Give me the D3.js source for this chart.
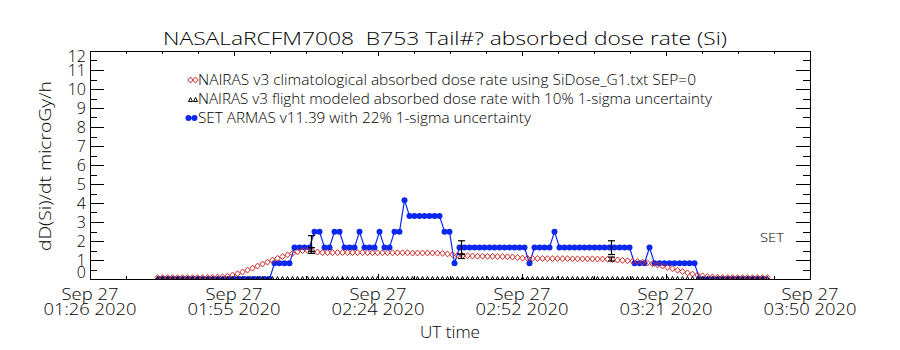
<!DOCTYPE html>
<html>
<head>
<meta charset="utf-8">
<script src="https://cdn.jsdelivr.net/npm/d3@7"></script>
<style>
  html, body { margin: 0; padding: 0; background: #fff; }
  svg text { font-family: "Open Sans", "Liberation Sans", "DejaVu Sans", Arial, sans-serif; font-weight: 300; fill: #000; white-space: pre; }
</style>
</head>
<body>
<svg id="chart" width="900" height="350"></svg>
<script>
// ---- text ----
const titleText = "NASALaRCFM7008  B753 Tail#? absorbed dose rate (Si)";
const yAxisTitle = "dD(Si)/dt microGy/h";
const xAxisTitle = "UT time";
const legendLabels = [
  "NAIRAS v3 climatological absorbed dose rate using SiDose_G1.txt SEP=0",
  "NAIRAS v3 flight modeled absorbed dose rate with 10% 1-sigma uncertainty",
  "SET ARMAS v11.39 with 22% 1-sigma uncertainty"
];
const sideLabel = "SET";
const flightDay = "2020-09-27";

// ---- axes ----
const timeDomain = ["01:26:30", "03:50:30"];
const xTickTimes = ["01:26:30", "01:55:18", "02:24:06", "02:52:54", "03:21:42", "03:50:30"];
const yTicks = [0, 1, 2, 3, 4, 5, 6, 7, 8, 9, 10, 11, 12];

// ---- NAIRAS climatological dose rate, one value per minute ----
const climStart = "01:40:00";
const climDose = [
  0.07, 0.07, 0.07, 0.07, 0.07, 0.07, 0.07, 0.07, 0.07, 0.07,
  0.08, 0.09, 0.10, 0.12,
  0.15, 0.21, 0.28, 0.37, 0.47, 0.57, 0.68, 0.79, 0.89, 0.99,
  1.09, 1.18, 1.27, 1.35, 1.43, 1.49, 1.51, 1.47, 1.42, 1.39,
  1.39, 1.39, 1.39, 1.39, 1.39, 1.39, 1.39, 1.39, 1.38, 1.38, 1.38, 1.38,
  1.38, 1.38, 1.38, 1.38, 1.38, 1.37, 1.37, 1.37, 1.37, 1.37, 1.36,
  1.35, 1.32, 1.28, 1.25, 1.23, 1.22, 1.21, 1.20, 1.20, 1.19,
  1.19, 1.18, 1.18, 1.17, 1.16, 1.13, 1.10, 1.09, 1.08, 1.08,
  1.08, 1.07, 1.07, 1.07, 1.07, 1.07, 1.06, 1.06, 1.06, 1.06,
  1.06, 1.05, 1.05, 1.04, 1.02, 1.00, 0.98, 0.96, 0.94, 0.92,
  0.89, 0.85, 0.80, 0.74, 0.68, 0.61, 0.54, 0.46, 0.39, 0.32,
  0.26, 0.21, 0.17, 0.13, 0.11, 0.09, 0.08,
  0.07, 0.07, 0.07, 0.07, 0.07, 0.07, 0.07, 0.07, 0.07
];

// ---- NAIRAS flight modeled dose rate, one value per minute ----
const modelStart = "01:40:00";
const modelDose = [
  0, 0, 0, 0, 0, 0, 0, 0, 0, 0, 0, 0, 0, 0, 0, 0, 0, 0, 0, 0,
  0, 0, 0, 0, 0, 0, 0, 0, 0, 0, 0, 0, 0, 0, 0, 0, 0, 0, 0, 0,
  0, 0, 0, 0, 0, 0, 0, 0, 0, 0, 0, 0, 0, 0, 0, 0, 0, 0, 0, 0,
  0, 0, 0, 0, 0, 0, 0, 0, 0, 0, 0, 0, 0, 0, 0, 0, 0, 0, 0, 0,
  0, 0, 0, 0, 0, 0, 0, 0, 0, 0, 0, 0, 0, 0, 0, 0, 0, 0, 0, 0,
  0, 0, 0, 0, 0, 0, 0, 0, 0, 0, 0, 0, 0, 0, 0, 0, 0, 0, 0, 0,
  0, 0, 0
];

// ---- SET ARMAS measured dose rate, one value per minute ----
const setStart = "01:40:24";
const setDose = [
  0, 0, 0, 0, 0, 0, 0, 0, 0, 0, 0, 0, 0, 0, 0, 0, 0, 0, 0, 0, 0, 0, 0,
  0.83, 0.83, 0.83, 0.83,
  1.66, 1.66, 1.66, 1.66,
  2.49, 2.49,
  1.66, 1.66,
  2.49, 2.49,
  1.66, 1.66, 1.66,
  2.49,
  1.66, 1.66, 1.66,
  2.49,
  1.66, 1.66,
  2.49, 2.49,
  4.15,
  3.32, 3.32, 3.32, 3.32, 3.32, 3.32, 3.32,
  2.49, 2.49,
  0.83,
  1.66, 1.66, 1.66, 1.66, 1.66, 1.66, 1.66, 1.66, 1.66, 1.66, 1.66, 1.66, 1.66, 1.66,
  0.83,
  1.66, 1.66, 1.66, 1.66,
  2.49,
  1.66, 1.66, 1.66, 1.66, 1.66, 1.66, 1.66, 1.66, 1.66, 1.66, 1.66, 1.66, 1.66, 1.66, 1.66,
  0.83, 0.83, 0.83,
  1.66,
  0.83, 0.83, 0.83, 0.83, 0.83, 0.83, 0.83, 0.83, 0.83,
  0, 0, 0, 0, 0, 0, 0, 0, 0, 0, 0, 0, 0, 0
];

// ---- uncertainty bars at waypoints ----
const errTimes = ["02:11:00", "02:41:00", "03:11:00"];
const errSetMean = [1.87, 1.65, 1.65];
const errSetFrac = 0.22;
const errModelMean = [1.50, 1.20, 1.05];
const errModelFrac = 0.10;

// ---------------------------------------------------------------
const svg = d3.select("#chart");
const plot = { left: 90, right: 810, top: 51, bottom: 279 };

const parseTime = d3.utcParse("%Y-%m-%d %H:%M:%S");
const t = s => parseTime(flightDay + " " + s);
const minute = 60000;

const x = d3.scaleUtc().domain(timeDomain.map(t)).range([plot.left, plot.right]);
const y = d3.scaleLinear().domain([0, 12]).range([plot.bottom, plot.top]);

const series = (start, vals) => vals.map((v, i) => ({ time: new Date(t(start).getTime() + i * minute), v }));
const climData = series(climStart, climDose);
const modelData = series(modelStart, modelDose);
const setData = series(setStart, setDose);

const RED = "#cc2b2b";
const BLUE = "#0a28ee";

svg.append("defs").append("clipPath").attr("id", "plotclip")
  .append("rect")
  .attr("x", plot.left).attr("y", plot.top)
  .attr("width", plot.right - plot.left).attr("height", plot.bottom - plot.top);

// title
svg.append("text")
  .attr("x", 445).attr("y", 45)
  .attr("text-anchor", "middle")
  .attr("font-size", 19)
  .attr("textLength", 564).attr("lengthAdjust", "spacingAndGlyphs")
  .text(titleText);

// ---- ticks ----
const tickG = svg.append("g").attr("stroke", "#000").attr("stroke-width", 1).attr("shape-rendering", "crispEdges");
const majorX = xTickTimes.map(t);
const minorX = [];
for (let i = 0; i < majorX.length - 1; i++) {
  const a = majorX[i].getTime(), b = majorX[i + 1].getTime();
  for (let j = 1; j < 4; j++) minorX.push(new Date(a + (b - a) * j / 4));
}
majorX.forEach(d => {
  const px = Math.round(x(d)) + 0.5;
  tickG.append("line").attr("x1", px).attr("x2", px).attr("y1", plot.bottom).attr("y2", plot.bottom - 5);
  tickG.append("line").attr("x1", px).attr("x2", px).attr("y1", plot.top).attr("y2", plot.top + 5);
});
minorX.forEach(d => {
  const px = Math.round(x(d)) + 0.5;
  tickG.append("line").attr("x1", px).attr("x2", px).attr("y1", plot.bottom).attr("y2", plot.bottom - 3);
  tickG.append("line").attr("x1", px).attr("x2", px).attr("y1", plot.top).attr("y2", plot.top + 3);
});
for (let v = 0; v <= 12; v += 0.5) {
  const py = Math.round(y(v)) + 0.5;
  const len = Number.isInteger(v) ? 14 : 7;
  tickG.append("line").attr("x1", plot.left).attr("x2", plot.left + len).attr("y1", py).attr("y2", py);
  tickG.append("line").attr("x1", plot.right).attr("x2", plot.right - len).attr("y1", py).attr("y2", py);
}

// frame
svg.append("rect")
  .attr("x", plot.left + 0.5).attr("y", plot.top + 0.5)
  .attr("width", plot.right - plot.left).attr("height", plot.bottom - plot.top)
  .attr("fill", "none").attr("stroke", "#000").attr("stroke-width", 1)
  .attr("shape-rendering", "crispEdges");

// y labels, kept inside the frame's vertical extent
const yFont = 16;
yTicks.forEach(v => {
  let cy = y(v);
  cy = Math.min(cy, plot.bottom - 7);
  cy = Math.max(cy, plot.top + 5);
  svg.append("text")
    .attr("x", plot.left - 4).attr("y", cy)
    .attr("dy", "0.36em")
    .attr("text-anchor", "end")
    .attr("font-size", yFont)
    .text(v);
});

// x labels, two lines each
const fmtDay = d3.utcFormat("%b %d");
const fmtTime = d3.utcFormat("%H:%M %Y");
majorX.forEach(d => {
  const px = x(d);
  svg.append("text").attr("x", px).attr("y", 300)
    .attr("text-anchor", "middle").attr("font-size", 16)
    .attr("textLength", 57).attr("lengthAdjust", "spacingAndGlyphs")
    .text(fmtDay(d));
  svg.append("text").attr("x", px).attr("y", 315)
    .attr("text-anchor", "middle").attr("font-size", 16)
    .attr("textLength", 93).attr("lengthAdjust", "spacingAndGlyphs")
    .text(fmtTime(d));
});

// axis titles
svg.append("text")
  .attr("x", 450).attr("y", 338)
  .attr("text-anchor", "middle").attr("font-size", 16)
  .attr("textLength", 60).attr("lengthAdjust", "spacingAndGlyphs")
  .text(xAxisTitle);

svg.append("text")
  .attr("transform", "translate(51,166) rotate(-90)")
  .attr("text-anchor", "middle").attr("font-size", 16)
  .attr("textLength", 170).attr("lengthAdjust", "spacingAndGlyphs")
  .text(yAxisTitle);

// ---- data ----
const dataG = svg.append("g").attr("clip-path", "url(#plotclip)");

// SET ARMAS: line with filled dots
dataG.append("path")
  .datum(setData)
  .attr("fill", "none").attr("stroke", BLUE).attr("stroke-width", 1.2)
  .attr("d", d3.line().x(d => x(d.time)).y(d => y(d.v)));
dataG.selectAll("circle.set").data(setData).join("circle")
  .attr("class", "set")
  .attr("cx", d => x(d.time)).attr("cy", d => y(d.v)).attr("r", 3)
  .attr("fill", BLUE);

// climatological: open diamonds
const diamond = (cx, cy) => `M${cx},${cy - 3}L${cx + 2.7},${cy}L${cx},${cy + 3}L${cx - 2.7},${cy}Z`;
dataG.selectAll("path.clim").data(climData).join("path")
  .attr("class", "clim")
  .attr("d", d => diamond(x(d.time), y(d.v)))
  .attr("fill", "none").attr("stroke", RED).attr("stroke-width", 1);

// flight modeled: open triangles
const triangle = (cx, cy) => `M${cx},${cy - 2.5}L${cx + 2},${cy + 1.5}L${cx - 2},${cy + 1.5}Z`;
dataG.selectAll("path.model").data(modelData).join("path")
  .attr("class", "model")
  .attr("d", d => triangle(x(d.time), y(d.v)))
  .attr("fill", "none").attr("stroke", "#000").attr("stroke-width", 1);

// uncertainty bars
const errG = svg.append("g").attr("stroke", "#000").attr("stroke-width", 1.2);
const bar = (px, lo, hi) => {
  errG.append("line").attr("x1", px).attr("x2", px).attr("y1", y(lo)).attr("y2", y(hi));
  errG.append("line").attr("x1", px - 3.5).attr("x2", px + 3.5).attr("y1", y(lo)).attr("y2", y(lo));
  errG.append("line").attr("x1", px - 3.5).attr("x2", px + 3.5).attr("y1", y(hi)).attr("y2", y(hi));
};
errTimes.forEach((s, i) => {
  const px = Math.round(x(t(s))) - 1.5;
  const m = errSetMean[i];
  bar(px, m * (1 - errSetFrac), m * (1 + errSetFrac));
  const n = errModelMean[i];
  bar(px, n * (1 - errModelFrac), n * (1 + errModelFrac));
});

// ---- legend ----
const legRows = [80, 99, 118];
const legTextX = 198;
const legLens = [498, 514, 333];
// climatological marker
[190.5, 195.5].forEach(cx => svg.append("path").attr("d", diamond(cx, legRows[0]))
  .attr("fill", "none").attr("stroke", RED).attr("stroke-width", 1));
// modeled marker
[190.5, 195.5].forEach(cx => svg.append("path").attr("d", triangle(cx, legRows[1] + 1))
  .attr("fill", "none").attr("stroke", "#000").attr("stroke-width", 1));
// SET marker
svg.append("line").attr("x1", 186).attr("x2", 197).attr("y1", legRows[2]).attr("y2", legRows[2])
  .attr("stroke", BLUE).attr("stroke-width", 1.2);
[188.5, 194.5].forEach(cx => svg.append("circle").attr("cx", cx).attr("cy", legRows[2]).attr("r", 3).attr("fill", BLUE));

legendLabels.forEach((s, i) => {
  svg.append("text")
    .attr("x", legTextX).attr("y", legRows[i]).attr("dy", "0.36em")
    .attr("font-size", 14.5)
    .attr("textLength", legLens[i]).attr("lengthAdjust", "spacingAndGlyphs")
    .text(s);
});

// side label
svg.append("text")
  .attr("x", 760).attr("y", 237).attr("dy", "0.36em")
  .attr("font-size", 13)
  .attr("textLength", 24).attr("lengthAdjust", "spacingAndGlyphs")
  .text(sideLabel);
</script>
</body>
</html>
